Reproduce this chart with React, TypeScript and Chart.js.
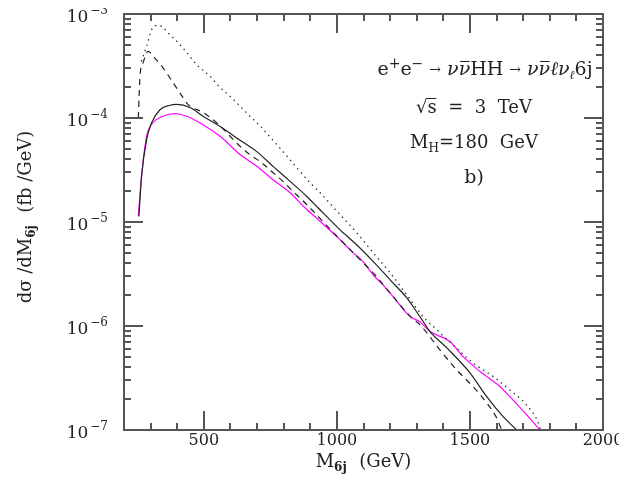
import React, { useEffect, useRef } from "react";
import { Chart, registerables } from "chart.js";

Chart.register(...registerables);

// ---- axis description ----
const X_RANGE = [200, 2000];
const Y_RANGE = [1e-7, 1e-3];
const xTickLabels = ["500", "1000", "1500", "2000"];
const xTickValues = [500, 1000, 1500, 2000];
const xMinorStep = 100;
const yDecadeValues = [1e-7, 1e-6, 1e-5, 1e-4, 1e-3];
const yDecadeExponents = ["\u22127", "\u22126", "\u22125", "\u22124", "\u22123"];

// ---- data ----
// solid black
const solidM = [256, 266, 285, 304, 335, 370, 398, 448, 497, 561, 636, 673, 699, 760, 824, 887, 929, 1012, 1074, 1136, 1200, 1262, 1312, 1350, 1413, 1500, 1563, 1624, 1676];
const solidV = [1.13e-5, 2.75e-5, 6.2e-5, 9.0e-5, 1.2e-4, 1.32e-4, 1.35e-4, 1.26e-4, 1.04e-4, 8.3e-5, 6.1e-5, 5.3e-5, 4.75e-5, 3.43e-5, 2.46e-5, 1.76e-5, 1.37e-5, 8.4e-6, 6.04e-6, 4.18e-6, 2.78e-6, 1.87e-6, 1.23e-6, 8.85e-7, 6.17e-7, 3.55e-7, 2.09e-7, 1.35e-7, 1.0e-7];

// solid magenta
const magentaM = [254, 266, 285, 309, 346, 392, 436, 497, 561, 636, 699, 760, 824, 880, 940, 1012, 1061, 1098, 1136, 1173, 1211, 1275, 1312, 1350, 1425, 1474, 1538, 1613, 1650, 1713, 1763];
const magentaV = [1.15e-5, 2.75e-5, 6.67e-5, 9.0e-5, 1.04e-4, 1.10e-4, 1.04e-4, 8.63e-5, 6.67e-5, 4.45e-5, 3.43e-5, 2.55e-5, 1.91e-5, 1.37e-5, 1.0e-5, 6.76e-6, 5.07e-6, 4.18e-6, 3.11e-6, 2.49e-6, 1.92e-6, 1.23e-6, 1.1e-6, 8.85e-7, 7.1e-7, 5.08e-7, 3.65e-7, 2.62e-7, 2.09e-7, 1.4e-7, 1.0e-7];

// dashed black
const dashedM = [254, 257, 260, 272, 291, 309, 342, 384, 422, 440, 497, 548, 636, 673, 717, 760, 797, 835, 880, 1000, 1106, 1143, 1211, 1281, 1312, 1387, 1450, 1511, 1563, 1600, 1619];
const dashedV = [1.0e-4, 1.7e-4, 2.52e-4, 3.41e-4, 4.38e-4, 3.93e-4, 3.15e-4, 2.19e-4, 1.57e-4, 1.35e-4, 1.13e-4, 9.0e-5, 5.35e-5, 4.45e-5, 3.72e-5, 2.98e-5, 2.46e-5, 1.97e-5, 1.53e-5, 7.3e-6, 3.88e-6, 3.11e-6, 1.92e-6, 1.2e-6, 1.03e-6, 5.9e-7, 3.79e-7, 2.62e-7, 1.82e-7, 1.31e-7, 1.0e-7];

// dotted black
const dottedM = [265, 285, 304, 323, 342, 365, 398, 436, 473, 523, 561, 598, 636, 673, 711, 755, 797, 849, 899, 937, 993, 1074, 1136, 1200, 1262, 1324, 1375, 1436, 1511, 1587, 1650, 1713, 1757, 1765];
const dottedV = [3.5e-4, 4.9e-4, 7.1e-4, 7.75e-4, 7.6e-4, 6.6e-4, 5.47e-4, 4.26e-4, 3.26e-4, 2.52e-4, 1.96e-4, 1.62e-4, 1.30e-4, 1.04e-4, 8.4e-5, 6.3e-5, 4.78e-5, 3.33e-5, 2.39e-5, 1.91e-5, 1.33e-5, 7.9e-6, 5.07e-6, 3.25e-6, 2.0e-6, 1.23e-6, 9.2e-7, 6.59e-7, 4.42e-7, 3.27e-7, 2.42e-7, 1.74e-7, 1.17e-7, 1.0e-7];

const toPts = (m: number[], v: number[]) => m.map((x, i) => ({ x, y: v[i] }));

const FAM = '"DejaVu Serif", serif';
const F = (size: number, style = "") => `${style} ${size}px ${FAM}`.trim();
const INK = "#222";
const AXIS = "#555555";

type Seg = { t: string; f: string; dy?: number; over?: boolean; dx?: number; sqrt?: boolean };

function segWidth(ctx: CanvasRenderingContext2D, segs: Seg[]) {
  let w = 0;
  for (const s of segs) {
    ctx.font = s.f;
    w += ctx.measureText(s.t).width + (s.dx || 0);
  }
  return w;
}

function drawSegs(ctx: CanvasRenderingContext2D, segs: Seg[], x0: number, by: number, align: "left" | "center" | "right") {
  const total = segWidth(ctx, segs);
  let x = align === "center" ? x0 - total / 2 : align === "right" ? x0 - total : x0;
  ctx.textAlign = "left";
  ctx.textBaseline = "alphabetic";
  let sqrtStart: number | null = null;
  for (const s of segs) {
    ctx.font = s.f;
    const w = ctx.measureText(s.t).width;
    ctx.fillText(s.t, x, by + (s.dy || 0));
    if (s.sqrt) sqrtStart = x + w - 1;
    if (s.over) {
      const sx = sqrtStart !== null ? sqrtStart : x + 1.5;
      const yy = Math.round(by + (s.dy || 0) - (sqrtStart !== null ? 15 : 14));
      ctx.fillRect(sx, yy, x + w - 0.5 - sx, 1);
      sqrtStart = null;
    }
    x += w + (s.dx || 0);
  }
}

function drawTicks(chart: any) {
  const ctx: CanvasRenderingContext2D = chart.ctx;
  const a = chart.chartArea;
  const xs = chart.scales.x;
  const ys = chart.scales.y;
  const L = Math.round(a.left);
  const R = Math.round(a.right);
  const T = Math.round(a.top);
  const B = Math.round(a.bottom);
  const W = 2;
  ctx.save();
  ctx.fillStyle = AXIS;
  ctx.fillRect(L - 1, T - 1, R - L + 2, W);
  ctx.fillRect(L - 1, B - 1, R - L + 2, W);
  ctx.fillRect(L - 1, T - 1, W, B - T + 2);
  ctx.fillRect(R - 1, T - 1, W, B - T + 2);
  for (let v = X_RANGE[0] + xMinorStep; v < X_RANGE[1]; v += xMinorStep) {
    const px = Math.round(xs.getPixelForValue(v));
    const len = v % 500 === 0 ? 19 : 7;
    ctx.fillRect(px - 1, B - len, W, len);
    ctx.fillRect(px - 1, T, W, len);
  }
  for (let e = -7; e < -3; e++) {
    for (let m = 1; m <= 9; m++) {
      if (m === 1 && e === -7) continue;
      const v = m * Math.pow(10, e);
      const py = Math.round(ys.getPixelForValue(v));
      const len = m === 1 ? 19 : 7;
      ctx.fillRect(L, py - 1, len, W);
      ctx.fillRect(R - len, py - 1, len, W);
    }
  }
  ctx.restore();
}

function drawTexts(chart: any) {
  const ctx: CanvasRenderingContext2D = chart.ctx;
  const a = chart.chartArea;
  const xs = chart.scales.x;
  const ys = chart.scales.y;
  const B = Math.round(a.bottom);
  ctx.save();
  ctx.fillStyle = INK;
  ctx.font = F(16);
  ctx.textAlign = "center";
  ctx.textBaseline = "alphabetic";
  xTickValues.forEach((v, i) => {
    ctx.fillText(xTickLabels[i], xs.getPixelForValue(v), B + 15);
  });
  yDecadeValues.forEach((v, i) => {
    const py = ys.getPixelForValue(v);
    drawSegs(
      ctx,
      [
        { t: "10", f: F(17), dx: 2 },
        { t: yDecadeExponents[i], f: F(12), dy: -8 },
      ],
      a.left - 16,
      py + 8,
      "right"
    );
  });

  drawSegs(
    ctx,
    [
      { t: "M", f: F(18) },
      { t: "6j", f: F(12, "bold"), dy: 4, dx: 1 },
      { t: "  (GeV)", f: F(18) },
    ],
    (a.left + a.right) / 2,
    459,
    "center"
  );

  ctx.save();
  ctx.translate(23, (a.top + a.bottom) / 2 - 5);
  ctx.rotate(-Math.PI / 2);
  drawSegs(
    ctx,
    [
      { t: "d\u03c3 /dM", f: F(18) },
      { t: "6j", f: F(12, "bold"), dy: 4, dx: 1 },
      { t: "  (fb /GeV)", f: F(18) },
    ],
    0,
    0,
    "center"
  );
  ctx.restore();

  const sup = F(14);
  const reg = F(19);
  const it = F(19, "italic");
  const arr = F(14);
  drawSegs(
    ctx,
    [
      { t: "e", f: reg },
      { t: "+", f: sup, dy: -7 },
      { t: "e", f: reg },
      { t: "\u2212", f: sup, dy: -7, dx: 6 },
      { t: "\u2192", f: arr, dy: -1, dx: 6 },
      { t: "\u03bd", f: it },
      { t: "\u03bd", f: it, over: true },
      { t: "HH", f: reg, dx: 6 },
      { t: "\u2192", f: arr, dy: -1, dx: 6 },
      { t: "\u03bd", f: it },
      { t: "\u03bd", f: it, over: true },
      { t: "\u2113", f: it },
      { t: "\u03bd", f: it },
      { t: "\u2113", f: F(12, "italic"), dy: 4 },
      { t: "6j", f: reg },
    ],
    477,
    67,
    "center"
  );
  const reg2 = F(18);
  drawSegs(
    ctx,
    [
      { t: "\u221a", f: reg2, sqrt: true },
      { t: "s", f: reg2, over: true },
      { t: "  =  3  TeV", f: reg2 },
    ],
    466,
    105,
    "center"
  );
  drawSegs(
    ctx,
    [
      { t: "M", f: reg2 },
      { t: "H", f: F(12), dy: 4 },
      { t: "=180  GeV", f: reg2 },
    ],
    466,
    140,
    "center"
  );
  drawSegs(ctx, [{ t: "b)", f: F(19) }], 466, 175, "center");
  ctx.restore();
}

const overlay = {
  id: "overlay",
  afterDraw(chart: any) {
    drawTexts(chart);
    drawTicks(chart);
  },
};

export default function App() {
  const ref = useRef<HTMLCanvasElement | null>(null);
  useEffect(() => {
    if (!ref.current) return;
    const common = {
      pointRadius: 0,
      fill: false,
      cubicInterpolationMode: "monotone" as const,
      borderWidth: 1.2,
    };
    const chart = new Chart(ref.current, {
      type: "line",
      data: {
        datasets: [
          { ...common, label: "dotted", data: toPts(dottedM, dottedV), borderColor: "#333", borderDash: [1.5, 4], borderWidth: 1.3 },
          { ...common, label: "dashed", data: toPts(dashedM, dashedV), borderColor: "#222", borderDash: [6, 5] },
          { ...common, label: "solid", data: toPts(solidM, solidV), borderColor: "#222" },
          { ...common, label: "magenta", data: toPts(magentaM, magentaV), borderColor: "#ff00ff" },
        ],
      },
      options: {
        animation: false,
        responsive: true,
        maintainAspectRatio: false,
        parsing: false as any,
        layout: { padding: { left: 0, right: 16, top: 6, bottom: 0 } },
        plugins: { legend: { display: false }, tooltip: { enabled: false } },
        scales: {
          x: {
            type: "linear",
            min: X_RANGE[0],
            max: X_RANGE[1],
            ticks: { display: false },
            grid: { display: false },
            border: { display: false },
            afterFit: (s: any) => {
              s.height = 54;
            },
          },
          y: {
            type: "logarithmic",
            min: Y_RANGE[0],
            max: Y_RANGE[1],
            ticks: { display: false },
            grid: { display: false },
            border: { display: false },
            afterFit: (s: any) => {
              s.width = 116;
            },
          },
        },
      },
      plugins: [overlay],
    });
    return () => chart.destroy();
  }, []);
  return (
    <div style={{ width: 611, height: 476, position: "relative" }}>
      <canvas ref={ref} />
    </div>
  );
}
